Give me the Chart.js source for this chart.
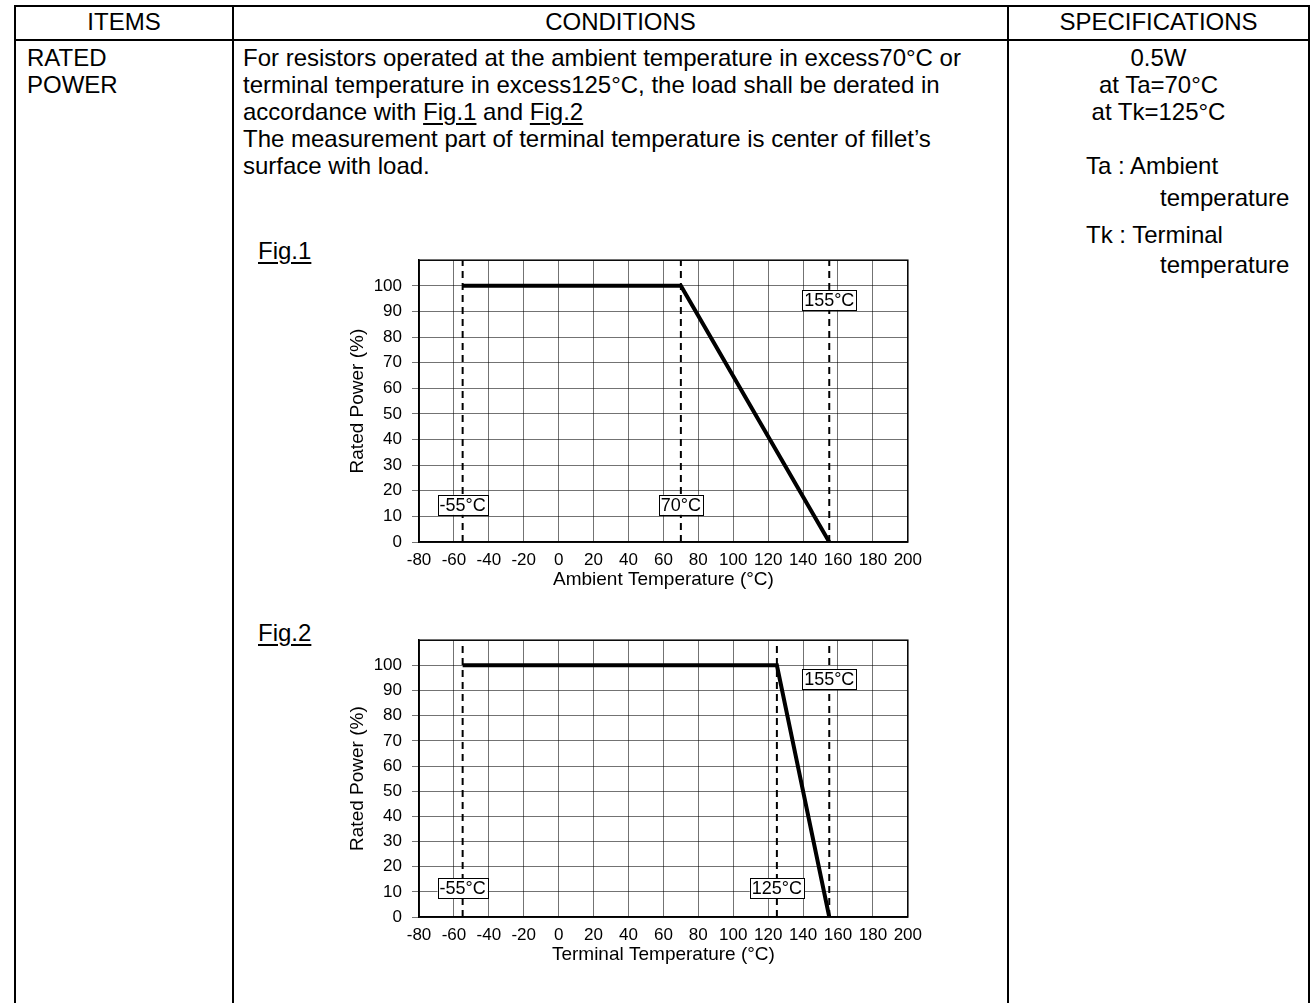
<!DOCTYPE html>
<html>
<head>
<meta charset="utf-8">
<script src="https://cdn.jsdelivr.net/npm/chart.js@4/dist/chart.umd.min.js"></script>
<style>
  body { margin: 0; background: #fff; font-family: "Liberation Sans", Arial, sans-serif; font-size: 24px; color: #000; }
  #page { position: relative; width: 1312px; height: 1003px; overflow: hidden; }
  .ln { position: absolute; background: #000; }
  .t { position: absolute; white-space: nowrap; line-height: 28px; }
  .c { text-align: center; }
  u { text-decoration: underline; text-decoration-thickness: 2px; text-underline-offset: 3px; }
  .fig { position: absolute; }
</style>
</head>
<body>
<div id="page">
  <!-- table frame -->
  <div class="ln" style="left:14px;top:5px;width:1296px;height:2px"></div>
  <div class="ln" style="left:14px;top:39px;width:1296px;height:2px"></div>
  <div class="ln" style="left:14px;top:5px;width:2px;height:998px"></div>
  <div class="ln" style="left:232px;top:5px;width:2px;height:998px"></div>
  <div class="ln" style="left:1007px;top:5px;width:2px;height:998px"></div>
  <div class="ln" style="left:1308px;top:5px;width:2px;height:998px"></div>

  <div class="t c" style="left:16px;width:216px;top:8px">ITEMS</div>
  <div class="t c" style="left:234px;width:773px;top:8px">CONDITIONS</div>
  <div class="t c" style="left:1009px;width:299px;top:8px">SPECIFICATIONS</div>

  <div class="t" style="left:27px;top:44px">RATED</div>
  <div class="t" style="left:27px;top:71px">POWER</div>

  <div class="t" style="left:243px;top:44px">For resistors operated at the ambient temperature in excess70°C or</div>
  <div class="t" style="left:243px;top:71px">terminal temperature in excess125°C, the load shall be derated in</div>
  <div class="t" style="left:243px;top:98px">accordance with <u>Fig.1</u> and <u>Fig.2</u></div>
  <div class="t" style="left:243px;top:125px">The measurement part of terminal temperature is center of fillet’s</div>
  <div class="t" style="left:243px;top:152px">surface with load.</div>

  <div class="t c" style="left:1009px;width:299px;top:44px">0.5W</div>
  <div class="t c" style="left:1009px;width:299px;top:71px">at Ta=70°C</div>
  <div class="t c" style="left:1009px;width:299px;top:98px">at Tk=125°C</div>
  <div class="t" style="left:1086px;top:152px">Ta : Ambient</div>
  <div class="t" style="left:1160px;top:184px">temperature</div>
  <div class="t" style="left:1086px;top:221px">Tk : Terminal</div>
  <div class="t" style="left:1160px;top:251px">temperature</div>

  <div class="t" style="left:258px;top:237px"><u>Fig.1</u></div>
  <div class="t" style="left:258px;top:619px"><u>Fig.2</u></div>

  <div class="fig" style="left:330px;top:240px;width:600px;height:352px"><canvas id="fig1"></canvas></div>
  <div class="fig" style="left:330px;top:620px;width:600px;height:347px"><canvas id="fig2"></canvas></div>
</div>

<script>
// axis ranges
const tempMin = -80;
const tempMax = 200;
const tempStep = 20;
const powerMin = 0;
const powerMax = 110;
const powerStep = 10;

// Fig.1 : ambient temperature derating
const fig1Temps = [-55, 70, 155];
const fig1Power = [100, 100, 0];
const fig1Marks = [-55, 70, 155];
const fig1MarkLevels = [14.5, 14.5, 94.5];

// Fig.2 : terminal temperature derating
const fig2Temps = [-55, 125, 155];
const fig2Power = [100, 100, 0];
const fig2Marks = [-55, 125, 155];
const fig2MarkLevels = [11.5, 11.5, 94.5];

const FONT = '"Liberation Sans", Arial, sans-serif';

// white boxes with the temperature text, plus the plot frame
const boxLabels = {
    id: 'boxLabels',
    beforeDatasetsDraw(chart) {
        const { ctx, chartArea: a } = chart;
        ctx.save();
        ctx.strokeStyle = '#000';
        ctx.lineWidth = 1.5;
        ctx.strokeRect(a.left, a.top, a.right - a.left, a.bottom - a.top);
        ctx.restore();
    },
    afterDatasetsDraw(chart, args, opts) {
        const { ctx, scales: { x, y } } = chart;
        ctx.save();
        ctx.font = '18px ' + FONT;
        ctx.textAlign = 'center';
        ctx.textBaseline = 'middle';
        opts.temps.forEach((t, i) => {
            const px = x.getPixelForValue(t);
            const py = y.getPixelForValue(opts.levels[i]);
            const text = t + '°C';
            const w = ctx.measureText(text).width + 4;
            const h = 20;
            ctx.fillStyle = '#fff';
            ctx.fillRect(px - w / 2, py - h / 2, w, h);
            ctx.strokeStyle = '#000';
            ctx.lineWidth = 1;
            ctx.strokeRect(Math.round(px - w / 2) + 0.5, Math.round(py - h / 2) + 0.5, Math.round(w), h);
            ctx.fillStyle = '#000';
            ctx.fillText(text, px, py + 1);
        });
        ctx.restore();
    }
};

function makeChart(id, temps, power, marks, levels, xTitle) {
    const datasets = [{
        data: temps.map((t, i) => ({ x: t, y: power[i] })),
        borderColor: '#000',
        borderWidth: 4,
        pointRadius: 0,
        tension: 0
    }];
    marks.forEach(m => {
        datasets.push({
            data: [{ x: m, y: powerMin }, { x: m, y: powerMax }],
            borderColor: '#000',
            borderWidth: 2,
            borderDash: [7, 5],
            pointRadius: 0
        });
    });

    return new Chart(document.getElementById(id), {
        type: 'scatter',
        data: { datasets: datasets.map(d => Object.assign({ showLine: true }, d)) },
        options: {
            responsive: true,
            maintainAspectRatio: false,
            animation: false,
            layout: { padding: { top: 16, right: 21, left: 0, bottom: 0 } },
            plugins: {
                legend: { display: false },
                tooltip: { enabled: false },
                boxLabels: { temps: marks, levels: levels }
            },
            scales: {
                x: {
                    type: 'linear',
                    min: tempMin,
                    max: tempMax,
                    afterFit: s => { s.height = 50; },
                    ticks: { stepSize: tempStep, color: '#000', padding: 8, maxRotation: 0, autoSkip: false, font: { family: FONT, size: 17 } },
                    grid: { color: 'rgba(0,0,0,0.55)', lineWidth: 1, drawTicks: false },
                    border: { color: '#000', width: 1.5 },
                    title: { display: true, text: xTitle, color: '#000', padding: { top: 0, bottom: 1 }, font: { family: FONT, size: 19 } }
                },
                y: {
                    min: powerMin,
                    max: powerMax,
                    afterFit: s => { s.width = 89; },
                    ticks: {
                        stepSize: powerStep, color: '#000', padding: 10,
                        font: { family: FONT, size: 17 },
                        callback: v => (v > 100 ? null : v)
                    },
                    grid: { color: 'rgba(0,0,0,0.55)', lineWidth: 1, tickLength: 7 },
                    border: { color: '#000', width: 1.5 },
                    title: { display: true, text: 'Rated Power (%)', color: '#000', padding: { top: 16, bottom: 0 }, font: { family: FONT, size: 19 } }
                }
            }
        },
        plugins: [boxLabels]
    });
}

makeChart('fig1', fig1Temps, fig1Power, fig1Marks, fig1MarkLevels, 'Ambient Temperature (°C)');
makeChart('fig2', fig2Temps, fig2Power, fig2Marks, fig2MarkLevels, 'Terminal Temperature (°C)');
</script>
</body>
</html>
